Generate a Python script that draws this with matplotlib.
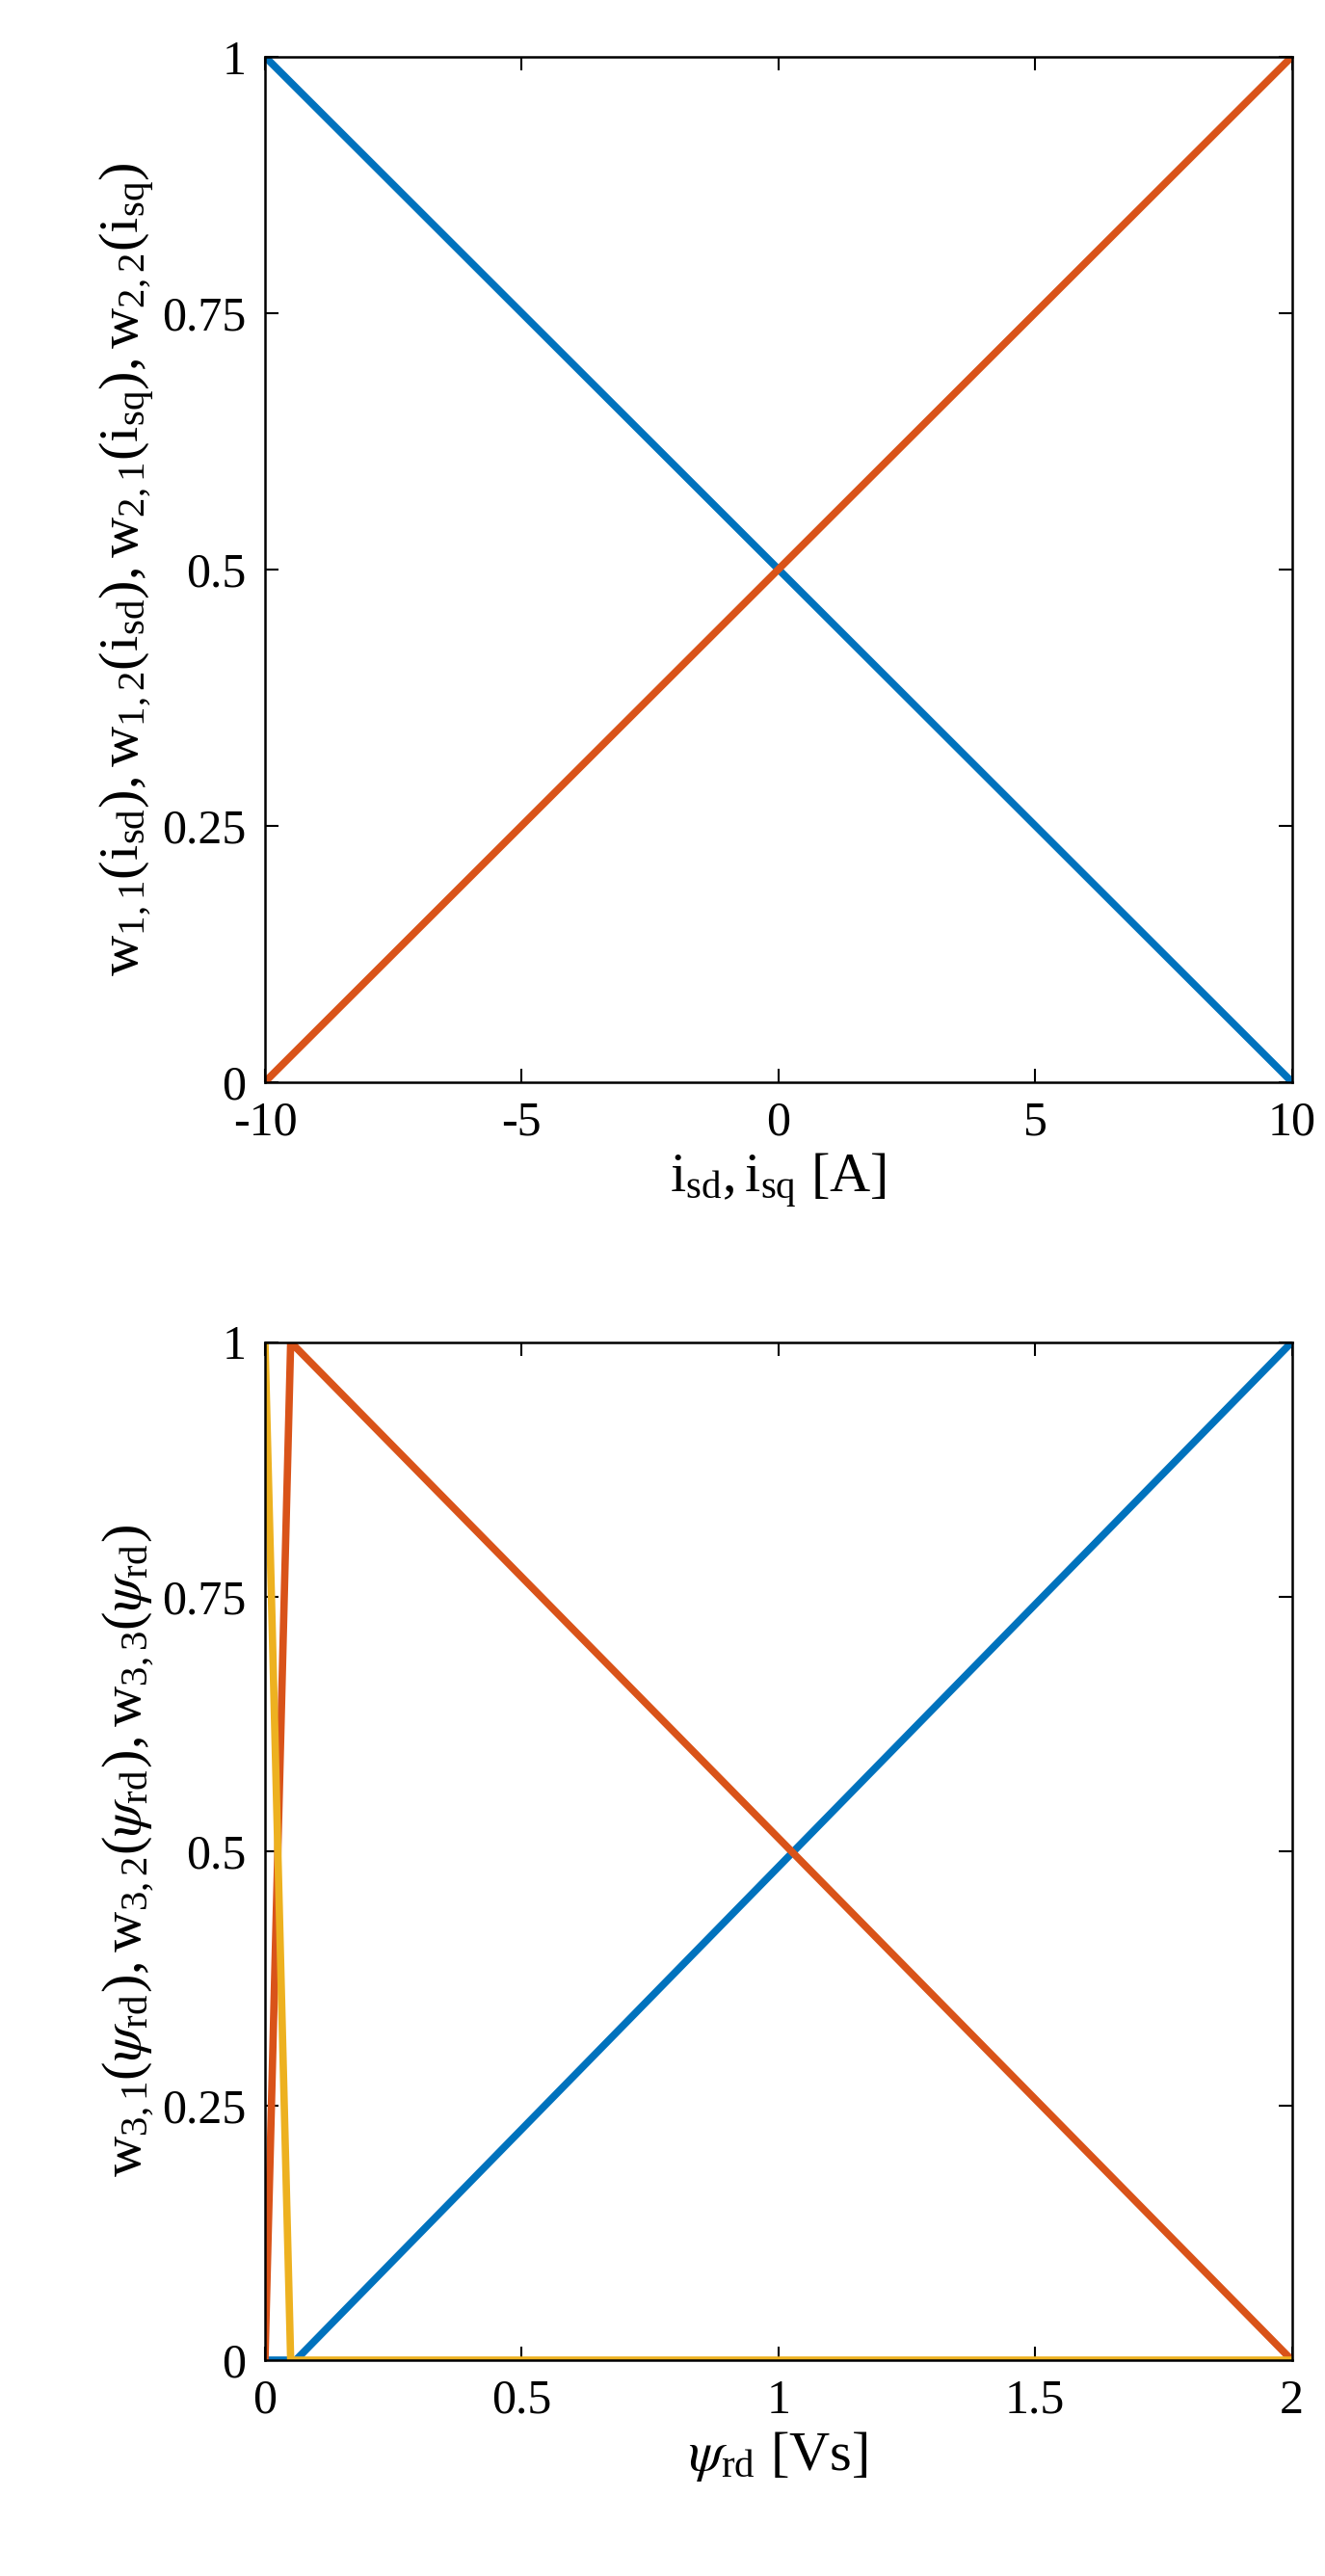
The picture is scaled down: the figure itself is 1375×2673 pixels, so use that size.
import matplotlib
matplotlib.use("Agg")
import matplotlib.pyplot as plt

plt.rcParams['font.family'] = ['Liberation Serif', 'DejaVu Serif']
plt.rcParams['mathtext.fontset'] = 'stix'
plt.rcParams['axes.unicode_minus'] = False

# Top panel data
i_x = [-10, 10]
w11 = [1, 0]
w12 = [0, 1]
# Bottom panel data
psi_yellow = [0, 0.05, 2]
w33 = [1, 0, 0]
psi_red = [0, 0.05, 2]
w32 = [0, 1, 0]
psi_blue = [0, 0.06, 2]
w31 = [0, 0, 1]

blue = '#0072BD'; red = '#D95319'; yellow = '#EDB120'
fs = 36
lfs = 42
fig = plt.figure(figsize=(13.75, 26.73), dpi=100)

ax1 = fig.add_axes([0.2, 0.580, 0.775, 0.398])
ax1.plot(i_x, w11, color=blue, lw=5.5)
ax1.plot(i_x, w12, color=red, lw=5.5)
ax1.set_xlim(-10, 10); ax1.set_ylim(0, 1)
ax1.set_xticks([-10, -5, 0, 5, 10])
ax1.set_yticks([0, 0.25, 0.5, 0.75, 1])
ax1.set_yticklabels(['0', '0.25', '0.5', '0.75', '1'])
ax1.set_xlabel(r'$\mathregular{i_{sd}, i_{sq}}$ [A]', fontsize=lfs)
ax1.set_ylabel(r'$\mathregular{w_{1,1}(i_{sd}), w_{1,2}(i_{sd}), w_{2,1}(i_{sq}), w_{2,2}(i_{sq})}$', fontsize=lfs, labelpad=4)

ax2 = fig.add_axes([0.2, 0.0838, 0.775, 0.3952])
ax2.plot(psi_blue, w31, color=blue, lw=5.5)
ax2.plot(psi_red, w32, color=red, lw=5.5)
ax2.plot(psi_yellow, w33, color=yellow, lw=5.5)
ax2.set_xlim(0, 2); ax2.set_ylim(0, 1)
ax2.set_xticks([0, 0.5, 1, 1.5, 2])
ax2.set_xticklabels(['0', '0.5', '1', '1.5', '2'])
ax2.set_yticks([0, 0.25, 0.5, 0.75, 1])
ax2.set_yticklabels(['0', '0.25', '0.5', '0.75', '1'])
ax2.set_xlabel(r'$\psi_{\mathregular{rd}}$ [Vs]', fontsize=lfs)
ax2.set_ylabel(r'$\mathregular{w_{3,1}(}\psi_{\mathregular{rd}}\mathregular{), w_{3,2}(}\psi_{\mathregular{rd}}\mathregular{), w_{3,3}(}\psi_{\mathregular{rd}}\mathregular{)}$', fontsize=lfs, labelpad=4)

for ax in (ax1, ax2):
    ax.tick_params(direction='in', length=10, width=1.5, labelsize=fs, pad=14,
                   top=True, right=True)
    for s in ax.spines.values():
        s.set_linewidth(1.8)

fig.savefig('out.png')
